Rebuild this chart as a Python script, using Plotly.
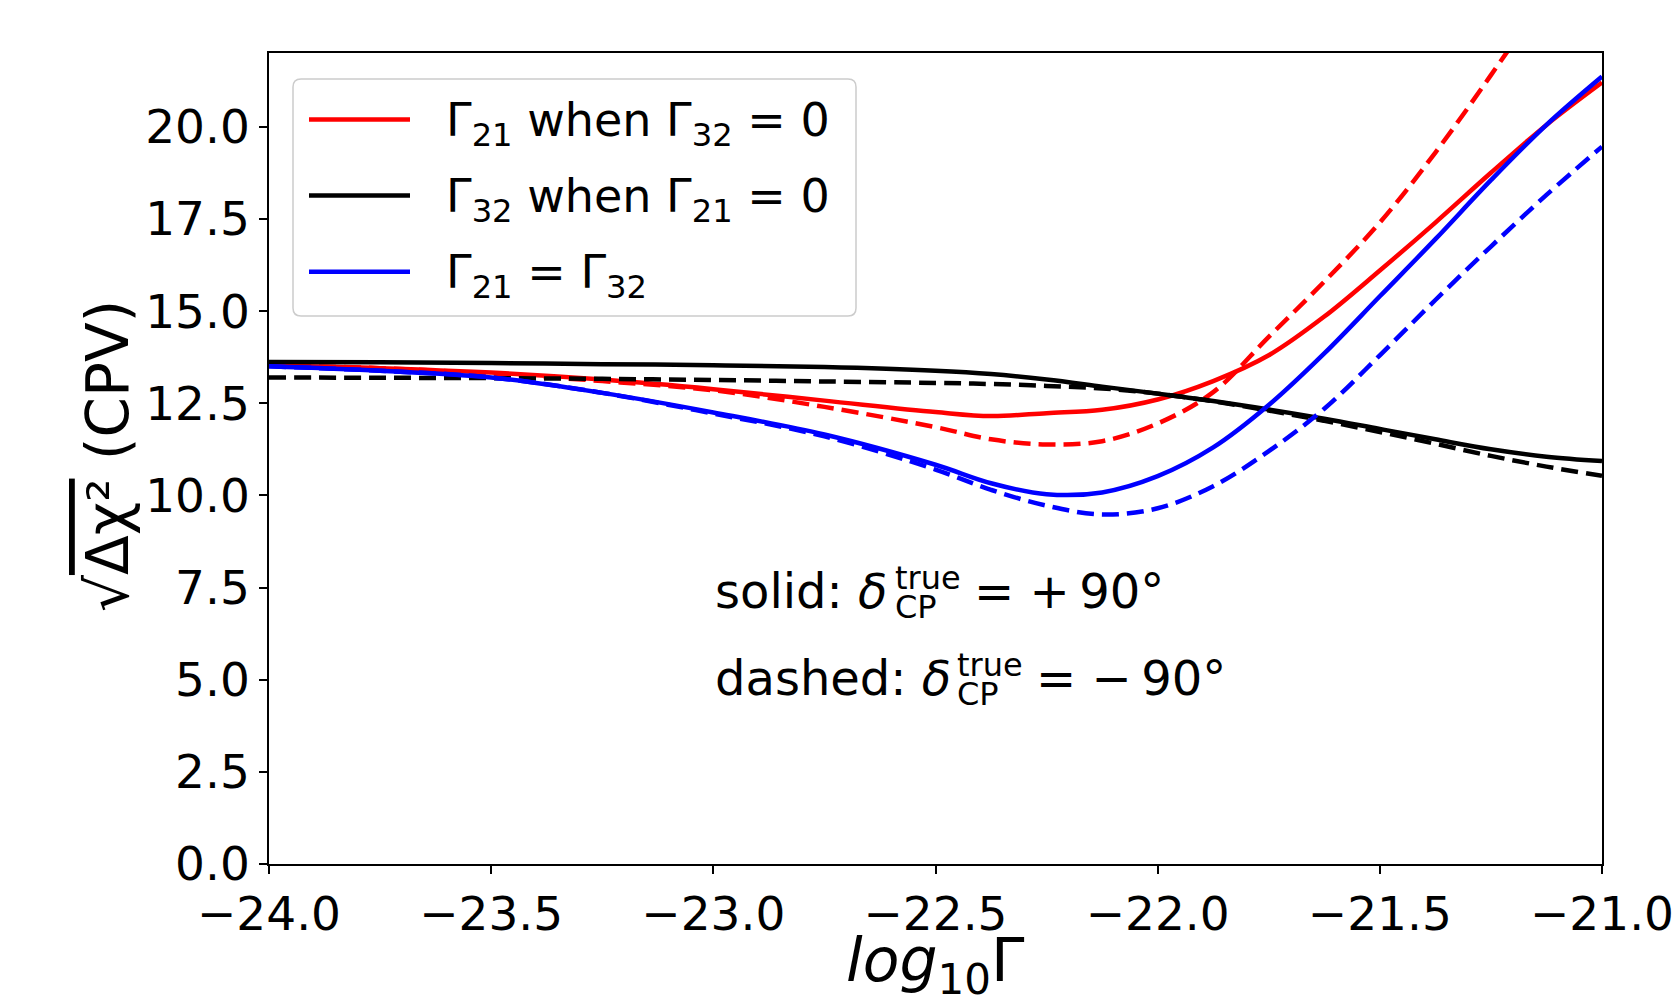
import plotly.graph_objects as go

# log10 of the decay parameter (x axis)
log_gamma = [-24.0, -23.75, -23.5, -23.25, -23.0, -22.75, -22.5, -22.375, -22.25,
             -22.125, -22.0, -21.875, -21.75, -21.625, -21.5, -21.375, -21.25, -21.125, -21.0]

# sqrt(delta chi^2) for CP violation, solid = delta_CP +90 deg, dashed = -90 deg
g21_pos = [13.52, 13.45, 13.33, 13.14, 12.88, 12.57, 12.26, 12.15, 12.23, 12.32,
           12.60, 13.10, 13.80, 14.85, 16.10, 17.40, 18.75, 20.05, 21.20]
g21_neg = [13.52, 13.45, 13.30, 13.10, 12.85, 12.40, 11.85, 11.52, 11.38, 11.47,
           11.95, 12.80, 14.30, 15.80, 17.40, 19.30, 21.40, 23.60, 26.00]
g32_pos = [13.62, 13.61, 13.59, 13.56, 13.53, 13.48, 13.38, 13.29, 13.14, 12.95,
           12.76, 12.56, 12.33, 12.08, 11.80, 11.52, 11.25, 11.05, 10.93]
g32_neg = [13.20, 13.19, 13.18, 13.16, 13.13, 13.09, 13.05, 13.02, 12.97, 12.90,
           12.76, 12.55, 12.30, 12.02, 11.72, 11.40, 11.07, 10.78, 10.53]
geq_pos = [13.50, 13.38, 13.20, 12.78, 12.25, 11.65, 10.83, 10.33, 10.03, 10.08,
           10.52, 11.30, 12.45, 13.85, 15.40, 16.95, 18.55, 20.05, 21.36]
geq_neg = [13.50, 13.38, 13.20, 12.78, 12.22, 11.60, 10.70, 10.15, 9.72, 9.48,
           9.65, 10.25, 11.20, 12.35, 13.80, 15.30, 16.75, 18.15, 19.46]

x_tick_vals = [-24.0, -23.5, -23.0, -22.5, -22.0, -21.5, -21.0]
x_tick_text = ["\u221224.0", "\u221223.5", "\u221223.0", "\u221222.5", "\u221222.0", "\u221221.5", "\u221221.0"]
y_tick_vals = [0.0, 2.5, 5.0, 7.5, 10.0, 12.5, 15.0, 17.5, 20.0]
y_tick_text = ["0.0", "2.5", "5.0", "7.5", "10.0", "12.5", "15.0", "17.5", "20.0"]

legend_labels = ["\u0393<sub>21</sub> when \u0393<sub>32</sub> = 0",
                 "\u0393<sub>32</sub> when \u0393<sub>21</sub> = 0",
                 "\u0393<sub>21</sub> = \u0393<sub>32</sub>"]
legend_colors = ["#ff0000", "#000000", "#0000ff"]

W, H = 1672, 1007
ML, MR, MT, MB = 269, 70, 53, 143
PW, PH = W - ML - MR, H - MT - MB
FONT = "DejaVu Sans"
DASH = "17px,8px"
LW = 4.5


def pxx(p):
    return (p - ML) / PW


def pxy(p):
    return (H - MB - p) / PH


fig = go.Figure()

curves = [
    (g21_pos, "#ff0000", "solid"),
    (g21_neg, "#ff0000", DASH),
    (g32_pos, "#000000", "solid"),
    (g32_neg, "#000000", DASH),
    (geq_pos, "#0000ff", "solid"),
    (geq_neg, "#0000ff", DASH),
]
for ys, col, dash in curves:
    fig.add_trace(go.Scatter(
        x=log_gamma, y=ys, mode="lines",
        line=dict(color=col, width=LW, dash=dash, shape="spline", smoothing=1.0),
        showlegend=False, hoverinfo="skip"))

axis_common = dict(
    showline=True, mirror=True, linecolor="black", linewidth=1.5,
    ticks="outside", ticklen=8, tickwidth=1.5, tickcolor="black",
    showgrid=False, zeroline=False, ticklabeloverflow="allow",
    tickfont=dict(family=FONT, size=47, color="black"),
)
fig.update_xaxes(range=[-24, -21], tickmode="array", tickvals=x_tick_vals,
                 ticktext=x_tick_text, **axis_common)
fig.update_yaxes(range=[0, 22], tickmode="array", tickvals=y_tick_vals,
                 ticktext=y_tick_text, **axis_common)

# legend frame with rounded corners
bx0, bx1, by0, by1, r = 293, 856, 79, 316, 8
rx, ry = r / PW, r / PH
X0, X1, Y0, Y1 = pxx(bx0), pxx(bx1), pxy(by0), pxy(by1)
path = (f"M {X0+rx},{Y0} L {X1-rx},{Y0} Q {X1},{Y0} {X1},{Y0-ry} "
        f"L {X1},{Y1+ry} Q {X1},{Y1} {X1-rx},{Y1} "
        f"L {X0+rx},{Y1} Q {X0},{Y1} {X0},{Y1+ry} "
        f"L {X0},{Y0-ry} Q {X0},{Y0} {X0+rx},{Y0} Z")
shapes = [dict(type="path", path=path, xref="paper", yref="paper",
               line=dict(color="#cccccc", width=1.5), fillcolor="rgba(255,255,255,0.8)")]

annotations = []
for i, (lab, col) in enumerate(zip(legend_labels, legend_colors)):
    yl = 119.4 + i * 76.2
    shapes.append(dict(type="line", xref="paper", yref="paper",
                       x0=pxx(309), x1=pxx(410), y0=pxy(yl), y1=pxy(yl),
                       line=dict(color=col, width=LW)))
    annotations.append(dict(text=lab, xref="paper", yref="paper", x=pxx(444), y=pxy(yl + 4),
                            xanchor="left", yanchor="middle", showarrow=False,
                            font=dict(family=FONT, size=46, color="black")))

# text box describing the line styles
small = 32
for base_y, head, dx, tail in [(608, "solid: <i>\u03b4</i>", 0, "= +\u200990\u00b0"),
                              (695, "dashed: <i>\u03b4</i>", 62, "= \u2212\u200990\u00b0")]:
    annotations.append(dict(text=head, xref="paper", yref="paper", x=pxx(713), y=pxy(base_y - 17),
                            xanchor="left", yanchor="middle", showarrow=False,
                            font=dict(family=FONT, size=48, color="black")))
    annotations.append(dict(text="true", xref="paper", yref="paper", x=pxx(893 + dx), y=pxy(base_y - 30),
                            xanchor="left", yanchor="middle", showarrow=False,
                            font=dict(family=FONT, size=small, color="black")))
    annotations.append(dict(text="CP", xref="paper", yref="paper", x=pxx(893 + dx), y=pxy(base_y - 1),
                            xanchor="left", yanchor="middle", showarrow=False,
                            font=dict(family=FONT, size=small, color="black")))
    annotations.append(dict(text=tail, xref="paper", yref="paper", x=pxx(972 + dx), y=pxy(base_y - 17),
                            xanchor="left", yanchor="middle", showarrow=False,
                            font=dict(family=FONT, size=48, color="black")))

# axis titles
annotations.append(dict(text="<i>log</i><sub>10</sub>\u0393", xref="paper", yref="paper",
                        x=0.5, y=pxy(964), xanchor="center", yanchor="middle", showarrow=False,
                        font=dict(family=FONT, size=60, color="black")))
annotations.append(dict(text="\u221a<span style='text-decoration:overline'>\u0394\u03c7\u00b2</span> (CPV)",
                        xref="paper", yref="paper", x=pxx(108), y=pxy(456), textangle=-90,
                        xanchor="center", yanchor="middle", showarrow=False,
                        font=dict(family=FONT, size=58, color="black")))

fig.update_layout(
    width=W, height=H, autosize=False,
    margin=dict(l=ML, r=MR, t=MT, b=MB, autoexpand=False),
    paper_bgcolor="white", plot_bgcolor="white",
    shapes=shapes, annotations=annotations,
    font=dict(family=FONT, color="black"),
)

fig.write_html("out.html")
